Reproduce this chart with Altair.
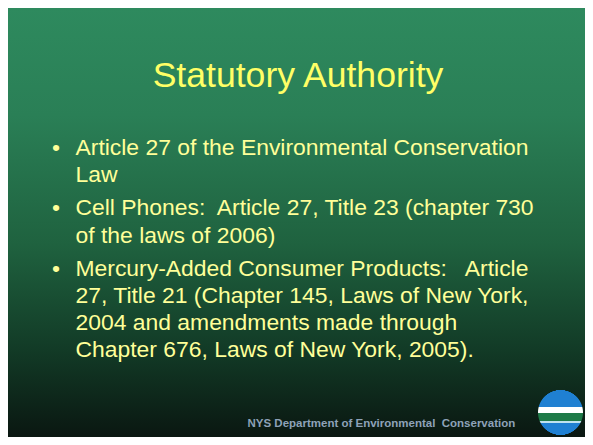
import math
import altair as alt
import pandas as pd

# ---- slide content ----
title_text = "Statutory Authority"
bullet_items = [
    ["Article 27 of the Environmental Conservation", "Law"],
    ["Cell Phones:\u00a0 Article 27, Title 23 (chapter 730", "of the laws of 2006)"],
    [
        "Mercury-Added Consumer Products:\u00a0\u00a0 Article",
        "27, Title 21 (Chapter 145, Laws of New York,",
        "2004 and amendments made through",
        "Chapter 676, Laws of New York, 2005).",
    ],
]
footer_text = "NYS Department of Environmental\u00a0 Conservation"

# ---- layout (slide pixel frame) ----
X0, X1, Y0, Y1 = 8, 585, 8, 437
W, H = X1 - X0, Y1 - Y0
FONT = "Liberation Sans"

xs = alt.Scale(domain=[X0, X1], nice=False, zero=False)
ys = alt.Scale(domain=[Y0, Y1], nice=False, zero=False, reverse=True)


def X(f="x"):
    return alt.X(f"{f}:Q", scale=xs, axis=None)


def Y(f="y"):
    return alt.Y(f"{f}:Q", scale=ys, axis=None)


# background gradient
bg = alt.Chart(pd.DataFrame({"k": [0]})).mark_rect(
    color=alt.Gradient(
        gradient="linear",
        x1=0, y1=0, x2=0, y2=1,
        stops=[
            alt.GradientStop(offset=0.0, color="#2E8A5E"),
            alt.GradientStop(offset=0.25, color="#2A7F56"),
            alt.GradientStop(offset=0.55, color="#1F623F"),
            alt.GradientStop(offset=0.8, color="#123A26"),
            alt.GradientStop(offset=1.0, color="#0A1711"),
        ],
    )
).encode(x=alt.value(0), x2=alt.value(W), y=alt.value(0), y2=alt.value(H))

# title
title_df = pd.DataFrame({"x": [298], "y": [87], "t": [title_text]})
title = alt.Chart(title_df).mark_text(
    font=FONT, fontSize=35.6, color="#FFFF66", align="center", baseline="alphabetic"
).encode(x=X(), y=Y(), text="t:N")

# bullet lines
rows, dots = [], []
yb = 155.0
for item in bullet_items:
    dots.append({"x": 56, "y": yb, "t": "\u2022"})
    for line in item:
        rows.append({"x": 75.5, "y": yb, "t": line})
        yb += 27.2
    yb += 6.0
lines = alt.Chart(pd.DataFrame(rows)).mark_text(
    font=FONT, fontSize=22.9, color="#FFFF99", align="left", baseline="alphabetic"
).encode(x=X(), y=Y(), text="t:N")
bullets = alt.Chart(pd.DataFrame(dots)).mark_text(
    font=FONT, fontSize=22.9, color="#FFFF99", align="center", baseline="alphabetic"
).encode(x=X(), y=Y(), text="t:N")

# footer
footer = alt.Chart(pd.DataFrame({"x": [247.5], "y": [427], "t": [footer_text]})).mark_text(
    font=FONT, fontSize=11.5, fontWeight="bold", color="#8EA2B8", align="left",
    baseline="alphabetic"
).encode(x=X(), y=Y(), text="t:N")

# logo (circle emblem) drawn as horizontal slices
cx, cy, r = 560.5, 412.5, 22.5
logo_rows = []
for i in range(int(cy - r), int(cy + r) + 1):
    mid = i + 0.5 - cy
    if abs(mid) >= r:
        continue
    half = math.sqrt(r * r - mid * mid)
    yy = i + 0.5
    if 407.0 <= yy < 413.0:
        c = "#FFFFFF"
    elif 413.0 <= yy < 421.5:
        c = "#1E7A48"
    elif 421.5 <= yy < 423.5:
        c = "#BFE3EF"
    else:
        c = "#1F80D2"
    logo_rows.append({"x": cx - half, "x2": cx + half, "y": i, "y2": i + 1, "c": c})
logo = alt.Chart(pd.DataFrame(logo_rows)).mark_rect().encode(
    x=X(), x2="x2:Q", y=Y(), y2="y2:Q", color=alt.Color("c:N", scale=None)
)

chart = alt.layer(bg, title, bullets, lines, footer, logo).properties(
    width=W, height=H, padding=0,
    autosize=alt.AutoSizeParams(type="fit", contains="padding"),
).configure_view(stroke=None).configure(background="#000000")

chart.save("out.html", embed_options={"renderer": "svg", "actions": False})
